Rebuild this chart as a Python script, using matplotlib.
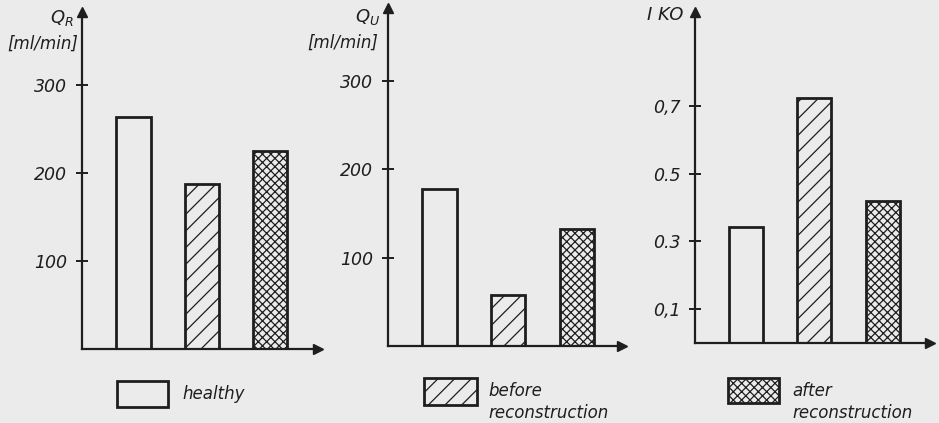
import matplotlib
matplotlib.use("Agg")
import matplotlib.pyplot as plt

# ---- data ----
groups = ["healthy", "before\nreconstruction", "after\nreconstruction"]
qr_values = [264, 187, 225]
qu_values = [178, 58, 132]
iko_values = [0.341, 0.723, 0.418]

qr_ticks = [100, 200, 300]
qu_ticks = [100, 200, 300]
iko_ticks = [0.1, 0.3, 0.5, 0.7]
iko_ticklabels = ["0,1", "0.3", "0.5", "0,7"]

hatches = ["", "//", "xxxx"]

W, H = 939, 423
BG = "#ebebeb"
INK = "#1e1e1e"

plt.rcParams["hatch.linewidth"] = 0.9
plt.rcParams["hatch.color"] = INK
plt.rcParams["font.family"] = ["DejaVu Sans"]

fig = plt.figure(figsize=(W / 100, H / 100), dpi=100, facecolor=BG)


def add_panel(x0, x1, y_bottom, y_top, ymax, values, ticks, ticklabels, c0, step):
    w = x1 - x0
    ax = fig.add_axes([x0 / W, 1 - y_bottom / H, w / W, (y_bottom - y_top) / H])
    ax.set_facecolor("none")
    xs = list(range(len(values)))
    for xi, v, h in zip(xs, values, hatches):
        ax.bar(xi, v, width=0.5, facecolor="none", edgecolor=INK, linewidth=2.0, hatch=h)
    ax.set_xlim(-c0 / step, (w - c0) / step)
    ax.set_ylim(0, ymax)
    for s in ["top", "right"]:
        ax.spines[s].set_visible(False)
    for s in ["left", "bottom"]:
        ax.spines[s].set_linewidth(1.6)
        ax.spines[s].set_color(INK)
    ax.set_xticks([])
    ax.set_yticks(ticks)
    ax.set_yticklabels(ticklabels, fontsize=12.5, style="italic", color=INK)
    ax.tick_params(axis="y", direction="inout", length=9, width=1.4, color=INK, pad=6)
    ax.plot(1, 0, ">", color=INK, markersize=7, transform=ax.transAxes, clip_on=False)
    ax.plot(0, 1, "^", color=INK, markersize=7, transform=ax.transAxes, clip_on=False)
    return ax


ax1 = add_panel(82, 318, 349, 12, (349 - 12) / 0.88, qr_values, qr_ticks,
                [str(t) for t in qr_ticks], 51.5, 68.3)
ax2 = add_panel(388, 622, 346, 8, (346 - 8) / 0.883, qu_values, qu_ticks,
                [str(t) for t in qu_ticks], 51.5, 68.7)
ax3 = add_panel(695, 930, 343, 12, (343 - 12) / 339, iko_values, iko_ticks,
                iko_ticklabels, 51.0, 68.3)

# axis labels
fig.text(62 / W, 1 - 18 / H, "$Q_R$", fontsize=13, style="italic", color=INK, ha="center", va="center")
fig.text(43 / W, 1 - 44 / H, "[ml/min]", fontsize=12, style="italic", color=INK, ha="center", va="center")
fig.text(368 / W, 1 - 17 / H, "$Q_U$", fontsize=13, style="italic", color=INK, ha="center", va="center")
fig.text(343 / W, 1 - 43 / H, "[ml/min]", fontsize=12, style="italic", color=INK, ha="center", va="center")
fig.text(665 / W, 1 - 15 / H, "I KO", fontsize=13, style="italic", color=INK, ha="center", va="center")

# legend
legend_boxes = [(117, 381, 51, 26), (424, 378, 53, 27), (728, 378, 51, 25)]
legend_text_x = [182, 488, 792]
for (bx, by, bw, bh), h, label, tx in zip(legend_boxes, hatches, groups, legend_text_x):
    r = plt.Rectangle((bx / W, 1 - (by + bh) / H), bw / W, bh / H, transform=fig.transFigure,
                      facecolor="none", edgecolor=INK, linewidth=2.0, hatch=h)
    fig.add_artist(r)
    ty = 1 - (by + bh / 2) / H if "\n" not in label else 1 - (by + 24) / H
    fig.text(tx / W, ty, label, fontsize=12, style="italic", color=INK, ha="left",
             va="center", linespacing=1.35)

fig.savefig("out.png", dpi=100, facecolor=BG)
